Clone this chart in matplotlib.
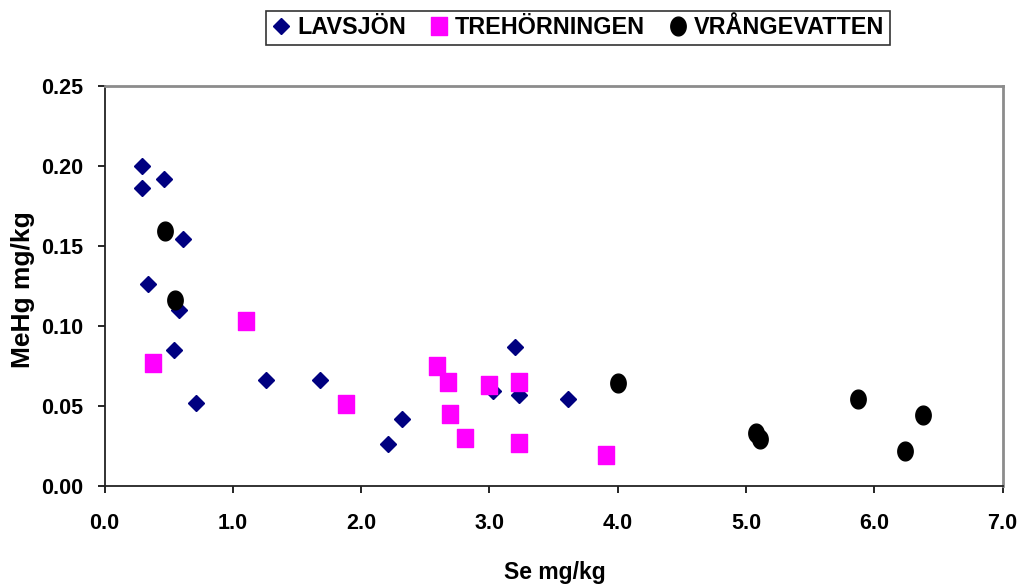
import numpy as np
import matplotlib.pyplot as plt
from matplotlib.path import Path

plt.rcParams['font.family'] = ['Liberation Sans', 'DejaVu Sans']
plt.rcParams['font.weight'] = 'bold'

# Lavsjön
lav_se = [0.29, 0.46, 0.29, 0.61, 0.34, 0.58, 0.54, 0.71, 1.26, 1.68,
          3.20, 3.03, 3.23, 3.61, 2.32, 2.21]
lav_mehg = [0.200, 0.192, 0.186, 0.154, 0.126, 0.110, 0.085, 0.052, 0.066, 0.066,
            0.087, 0.059, 0.057, 0.054, 0.042, 0.026]

# Trehörningen
tre_se = [1.10, 0.38, 1.88, 2.59, 2.68, 3.00, 3.23, 2.69, 2.81, 3.23, 3.91]
tre_mehg = [0.103, 0.077, 0.051, 0.075, 0.065, 0.063, 0.065, 0.045, 0.030, 0.027, 0.019]

# Vrångevatten
vra_se = [0.47, 0.55, 4.00, 5.08, 5.11, 5.87, 6.38, 6.24]
vra_mehg = [0.159, 0.116, 0.064, 0.033, 0.029, 0.054, 0.044, 0.022]

xticks = [0.0, 1.0, 2.0, 3.0, 4.0, 5.0, 6.0, 7.0]
yticks = [0.00, 0.05, 0.10, 0.15, 0.20, 0.25]

# slightly tall markers, as in the original
t = np.linspace(0, 2 * np.pi, 60)
ellipse = Path(np.column_stack([0.41 * np.cos(t), 0.5 * np.sin(t)]), closed=True)
rect = Path([(-0.43, -0.5), (0.43, -0.5), (0.43, 0.5), (-0.43, 0.5), (-0.43, -0.5)],
            closed=True)

fig = plt.figure(figsize=(10.24, 5.88), dpi=100)
ax = fig.add_axes([104.5 / 1024, 1 - 485.7 / 588, (1002.5 - 104.5) / 1024, 400 / 588])

ax.plot(lav_se, lav_mehg, linestyle='none', marker='D', ms=8.6,
        color='#000080', mec='#000080', label='LAVSJÖN')
ax.plot(tre_se, tre_mehg, linestyle='none', marker=rect, ms=13.2,
        color='#FF00FF', mec='#FF00FF', label='TREHÖRNINGEN')
ax.plot(vra_se, vra_mehg, linestyle='none', marker=ellipse, ms=13.5,
        color='black', mec='black', label='VRÅNGEVATTEN')

ax.set_xlim(0, 7)
ax.set_ylim(0, 0.25)
ax.set_xticks(xticks)
ax.set_xticklabels([f'{v:.1f}' for v in xticks])
ax.set_yticks(yticks)
ax.set_yticklabels([f'{v:.2f}' for v in yticks])
ax.tick_params(axis='x', direction='out', length=5, width=1.2, pad=15, labelsize=15.5)
ax.tick_params(axis='y', direction='out', length=5, width=1.2, pad=10, labelsize=15.5)

for s in ['left', 'bottom']:
    ax.spines[s].set_color('#222222')
    ax.spines[s].set_linewidth(1.3)
for s in ['top', 'right']:
    ax.spines[s].set_color('#8c8c8c')
    ax.spines[s].set_linewidth(2)

ax.set_xlabel('Se mg/kg', fontsize=16.5, fontweight='bold', va='center')
ax.set_ylabel('MeHg mg/kg', fontsize=19, fontweight='bold', va='center')
ax.xaxis.set_label_coords(0.502, -0.218)
ax.yaxis.set_label_coords(-0.091, 0.49)

leg = fig.legend(loc='center', bbox_to_anchor=(578 / 1024, 1 - 28 / 588), ncol=3,
                 frameon=True, fancybox=False, edgecolor='black', fontsize=16.8,
                 handlelength=0.8, handletextpad=0.3, columnspacing=1.0,
                 borderpad=0.25, borderaxespad=0)
leg.get_frame().set_linewidth(1.2)

fig.savefig('out.png', dpi=100)
